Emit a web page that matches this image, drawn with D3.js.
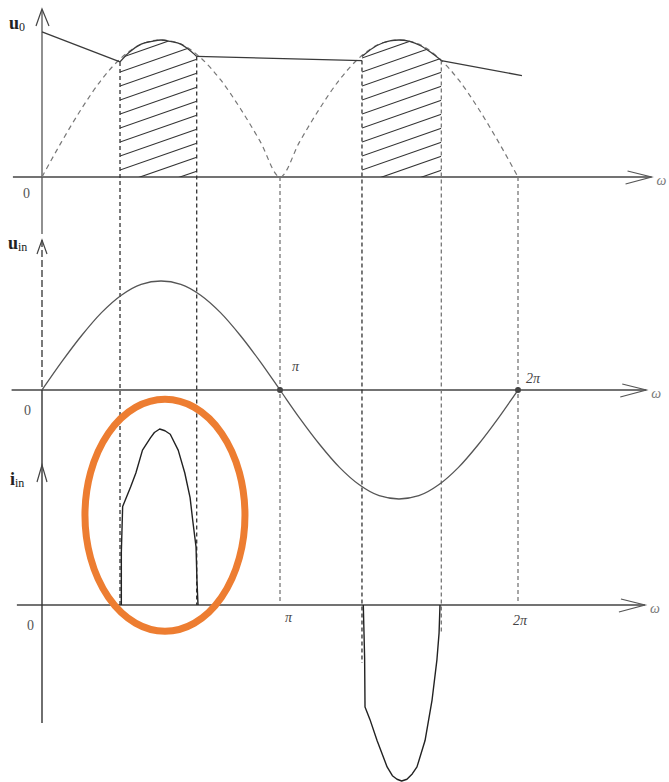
<!DOCTYPE html>
<html>
<head>
<meta charset="utf-8">
<script src="https://cdn.jsdelivr.net/npm/d3@7"></script>
<style>
  html, body { margin: 0; padding: 0; background: #fff; }
  svg { display: block; }
</style>
</head>
<body>
<svg id="chart" width="669" height="782"></svg>
<script>
// ---- Data -------------------------------------------------------------
// Phase samples of ωt (degrees) for the supply voltage
const phaseDeg = [0, 15, 30, 45, 60, 75, 90, 105, 120, 135, 150, 165, 180,
                  195, 210, 225, 240, 255, 270, 285, 300, 315, 330, 345, 360];
// Supply voltage u_in (per unit of its peak)
const uinValues = [0, 0.26, 0.5, 0.71, 0.87, 0.97, 1, 0.97, 0.87, 0.71, 0.5, 0.26, 0,
                   -0.26, -0.5, -0.71, -0.87, -0.97, -1, -0.97, -0.87, -0.71, -0.5, -0.26, 0];
// Bridge-rectified voltage |u_in|
const rectValues = [0, 0.26, 0.5, 0.71, 0.87, 0.97, 1, 0.97, 0.87, 0.71, 0.5, 0.26, 0,
                    0.26, 0.5, 0.71, 0.87, 0.97, 1, 0.97, 0.87, 0.71, 0.5, 0.26, 0];

// Output voltage u0: capacitor discharge segments (degrees, per unit)
const dischargeDeg = [[0, 59], [117, 242], [302, 363]];
const dischargeVal = [[1.06, 0.84], [0.88, 0.85], [0.85, 0.74]];

// Output voltage u0: charging humps while the diodes conduct
const humpDeg = [[59, 66, 75, 83, 90, 97, 105, 111, 117],
                 [242, 250, 258, 264, 270, 278, 286, 294, 302]];
const humpVal = [[0.84, 0.91, 0.97, 0.99, 1, 0.99, 0.97, 0.93, 0.88],
                 [0.88, 0.94, 0.98, 0.995, 1, 0.99, 0.96, 0.91, 0.85]];

// Input current i_in pulses (degrees, per unit of peak)
const posPulseDeg = [60, 60, 61, 67, 71, 76, 82, 85, 89, 93, 97, 103, 108, 112, 114, 116.5, 117.2, 118];
const posPulseVal = [0, 0.30, 0.56, 0.67, 0.75, 0.88, 0.95, 0.98, 1.0, 0.99, 0.97, 0.88, 0.75, 0.61, 0.48, 0.33, 0.14, 0];
const negPulseDeg = [243, 244, 244.3, 248, 253.4, 261, 265, 268.5, 272, 276, 280, 283.6, 289.7, 295, 298.7, 300.3, 301];
const negPulseVal = [0, -0.30, -0.58, -0.65, -0.77, -0.92, -0.97, -0.99, -1.0, -0.99, -0.96, -0.92, -0.77, -0.54, -0.31, -0.16, 0];

// Vertical guide lines: phase, start on the u0 plot, end on the i_in plot
const guideDeg = [59, 117, 180, 242, 302, 360];
const guideTopVal = [0.84, 0.88, 0, 0.85, 0.85, 0];
const guideBottomVal = [0, 0, 0, -0.33, -0.16, 0];

// Phase tick labels
const tickDeg = [180, 360];
const tickLabels = ["π", "2π"];

// Phase at the centre of the highlighted current pulse
const highlightDeg = 93;

// ---- Layout -----------------------------------------------------------
const svg = d3.select("#chart");
const ink = "#3a3a3a";
const serif = "'Liberation Serif', 'DejaVu Serif', serif";

const x = d3.scaleLinear().domain([0, 360]).range([42, 518]);
const yTop = d3.scaleLinear().domain([0, 1]).range([177, 40]);
const yMid = d3.scaleLinear().domain([0, 1]).range([390, 281]);
const yBot = d3.scaleLinear().domain([0, 1]).range([605, 429]);

const zip = (a, b) => a.map((d, i) => [d, b[i]]);

// ---- Axes -------------------------------------------------------------
function xAxis(y, fromDeg, toDeg) {
  const x0 = x(fromDeg), x1 = x(toDeg);
  svg.append("line").attr("x1", x0).attr("x2", x1).attr("y1", y).attr("y2", y)
    .attr("stroke", "#444").attr("stroke-width", 1.4);
  svg.append("path")
    .attr("d", `M${x1 - 24},${y - 6} L${x1},${y} L${x1 - 26},${y + 7}`)
    .attr("fill", "none").attr("stroke", "#555").attr("stroke-width", 1.2);
  svg.append("text").attr("x", x1 + 5).attr("y", y + 8)
    .attr("font-family", serif).attr("font-style", "italic").attr("font-size", 14)
    .attr("fill", "#777").text("ω");
}
xAxis(yTop(0), -22, 461);
xAxis(yMid(0), -23, 457);
xAxis(yBot(0), -19, 456);

// Vertical axis (one line shared by the three plots)
const ax = x(0);
svg.append("line").attr("x1", ax).attr("x2", ax).attr("y1", 10).attr("y2", 234)
  .attr("stroke", "#555").attr("stroke-width", 1.3);
svg.append("line").attr("x1", ax).attr("x2", ax).attr("y1", 240).attr("y2", yMid(0))
  .attr("stroke", "#333").attr("stroke-width", 1.3).attr("stroke-dasharray", "7,3");
svg.append("line").attr("x1", ax).attr("x2", ax).attr("y1", yMid(0)).attr("y2", 723)
  .attr("stroke", "#333").attr("stroke-width", 1.4);

function caret(tipY, dl, dr, h) {
  svg.append("path")
    .attr("d", `M${ax - dl},${tipY + h} L${ax},${tipY} L${ax + dr},${tipY + h}`)
    .attr("fill", "none").attr("stroke", "#444").attr("stroke-width", 1.2);
}
caret(9, 6, 7, 17);
caret(240, 5, 5, 14);
caret(465, 5, 5, 17);

// Axis names
function axisName(xp, yp, main, sub) {
  const t = svg.append("text").attr("x", xp).attr("y", yp)
    .attr("font-family", serif).attr("fill", "#222");
  t.append("tspan").attr("font-size", 18).attr("font-weight", "bold").text(main);
  t.append("tspan").attr("font-size", 12).attr("dy", 2).text(sub);
}
axisName(9, 29, "u", "0");
axisName(8, 249, "u", "in");
axisName(10, 485, "i", "in");

// Origin labels
[[23, 198], [24, 415], [27, 630]].forEach(([lx, ly]) => {
  svg.append("text").attr("x", lx).attr("y", ly)
    .attr("font-family", serif).attr("font-size", 14).attr("fill", "#555").text("0");
});

// ---- Vertical guide lines --------------------------------------------
guideDeg.forEach((d, i) => {
  svg.append("line")
    .attr("x1", x(d)).attr("x2", x(d))
    .attr("y1", yTop(guideTopVal[i])).attr("y2", yBot(guideBottomVal[i]))
    .attr("stroke", (d === 180 || d === 360 || d === 302) ? "#777" : "#333")
    .attr("stroke-width", 1.3)
    .attr("stroke-dasharray", "4,3");
});

// ---- u0 plot ---------------------------------------------------------
const rectLine = d3.line().x(d => x(d[0])).y(d => yTop(d[1])).curve(d3.curveMonotoneX);
svg.append("path").datum(zip(phaseDeg, rectValues))
  .attr("d", rectLine)
  .attr("fill", "none").attr("stroke", "#777").attr("stroke-width", 1.2)
  .attr("stroke-dasharray", "5,4");

// Hatched charging areas
const humpArea = d3.area().x(d => x(d[0])).y0(yTop(0)).y1(d => yTop(d[1])).curve(d3.curveMonotoneX);
const defs = svg.append("defs");
humpDeg.forEach((degs, k) => {
  const pts = zip(degs, humpVal[k]);
  defs.append("clipPath").attr("id", "hump" + k)
    .append("path").attr("d", humpArea(pts));
  const g = svg.append("g").attr("clip-path", `url(#hump${k})`);
  const xa = x(degs[0]), xb = x(degs[degs.length - 1]);
  const rise = 0.35 * (xb - xa);
  for (let yy = 58; yy < yTop(0) + rise + 14; yy += 14) {
    g.append("line").attr("x1", xa).attr("y1", yy).attr("x2", xb).attr("y2", yy - rise)
      .attr("stroke", "#333").attr("stroke-width", 1.1);
  }
});

const humpLine = d3.line().x(d => x(d[0])).y(d => yTop(d[1])).curve(d3.curveMonotoneX);
humpDeg.forEach((degs, k) => {
  svg.append("path").datum(zip(degs, humpVal[k])).attr("d", humpLine)
    .attr("fill", "none").attr("stroke", ink).attr("stroke-width", 1.3);
});
const segLine = d3.line().x(d => x(d[0])).y(d => yTop(d[1]));
dischargeDeg.forEach((degs, k) => {
  svg.append("path").datum(zip(degs, dischargeVal[k])).attr("d", segLine)
    .attr("fill", "none").attr("stroke", ink).attr("stroke-width", 1.3);
});

// ---- u_in plot -------------------------------------------------------
const uinLine = d3.line().x(d => x(d[0])).y(d => yMid(d[1])).curve(d3.curveMonotoneX);
svg.append("path").datum(zip(phaseDeg, uinValues)).attr("d", uinLine)
  .attr("fill", "none").attr("stroke", "#555").attr("stroke-width", 1.3);
tickDeg.forEach(d => {
  svg.append("circle").attr("cx", x(d)).attr("cy", yMid(0)).attr("r", 3)
    .attr("fill", "#444");
});
tickDeg.forEach((d, i) => {
  svg.append("text").attr("x", x(d) + (i === 0 ? 12 : 8)).attr("y", i === 0 ? 371 : 383)
    .attr("font-family", serif).attr("font-style", "italic").attr("font-size", 14)
    .attr("fill", "#444").text(tickLabels[i]);
});

// ---- i_in plot -------------------------------------------------------
const pulseLine = d3.line().x(d => x(d[0])).y(d => yBot(d[1]));
[[posPulseDeg, posPulseVal], [negPulseDeg, negPulseVal]].forEach(([degs, vals]) => {
  svg.append("path").datum(zip(degs, vals)).attr("d", pulseLine)
    .attr("fill", "none").attr("stroke", "#222").attr("stroke-width", 1.4)
    .attr("stroke-linejoin", "round");
});
tickDeg.forEach((d, i) => {
  svg.append("text").attr("x", x(d) + (i === 0 ? 5 : -5)).attr("y", i === 0 ? 622 : 625)
    .attr("font-family", serif).attr("font-style", "italic").attr("font-size", 14)
    .attr("fill", "#444").text(tickLabels[i]);
});

// Highlight around the positive current pulse
svg.append("ellipse")
  .attr("cx", x(highlightDeg))
  .attr("cy", yBot(0.51))
  .attr("rx", 80)
  .attr("ry", 116)
  .attr("fill", "none").attr("stroke", "#ED7D31").attr("stroke-width", 7);
</script>
</body>
</html>
